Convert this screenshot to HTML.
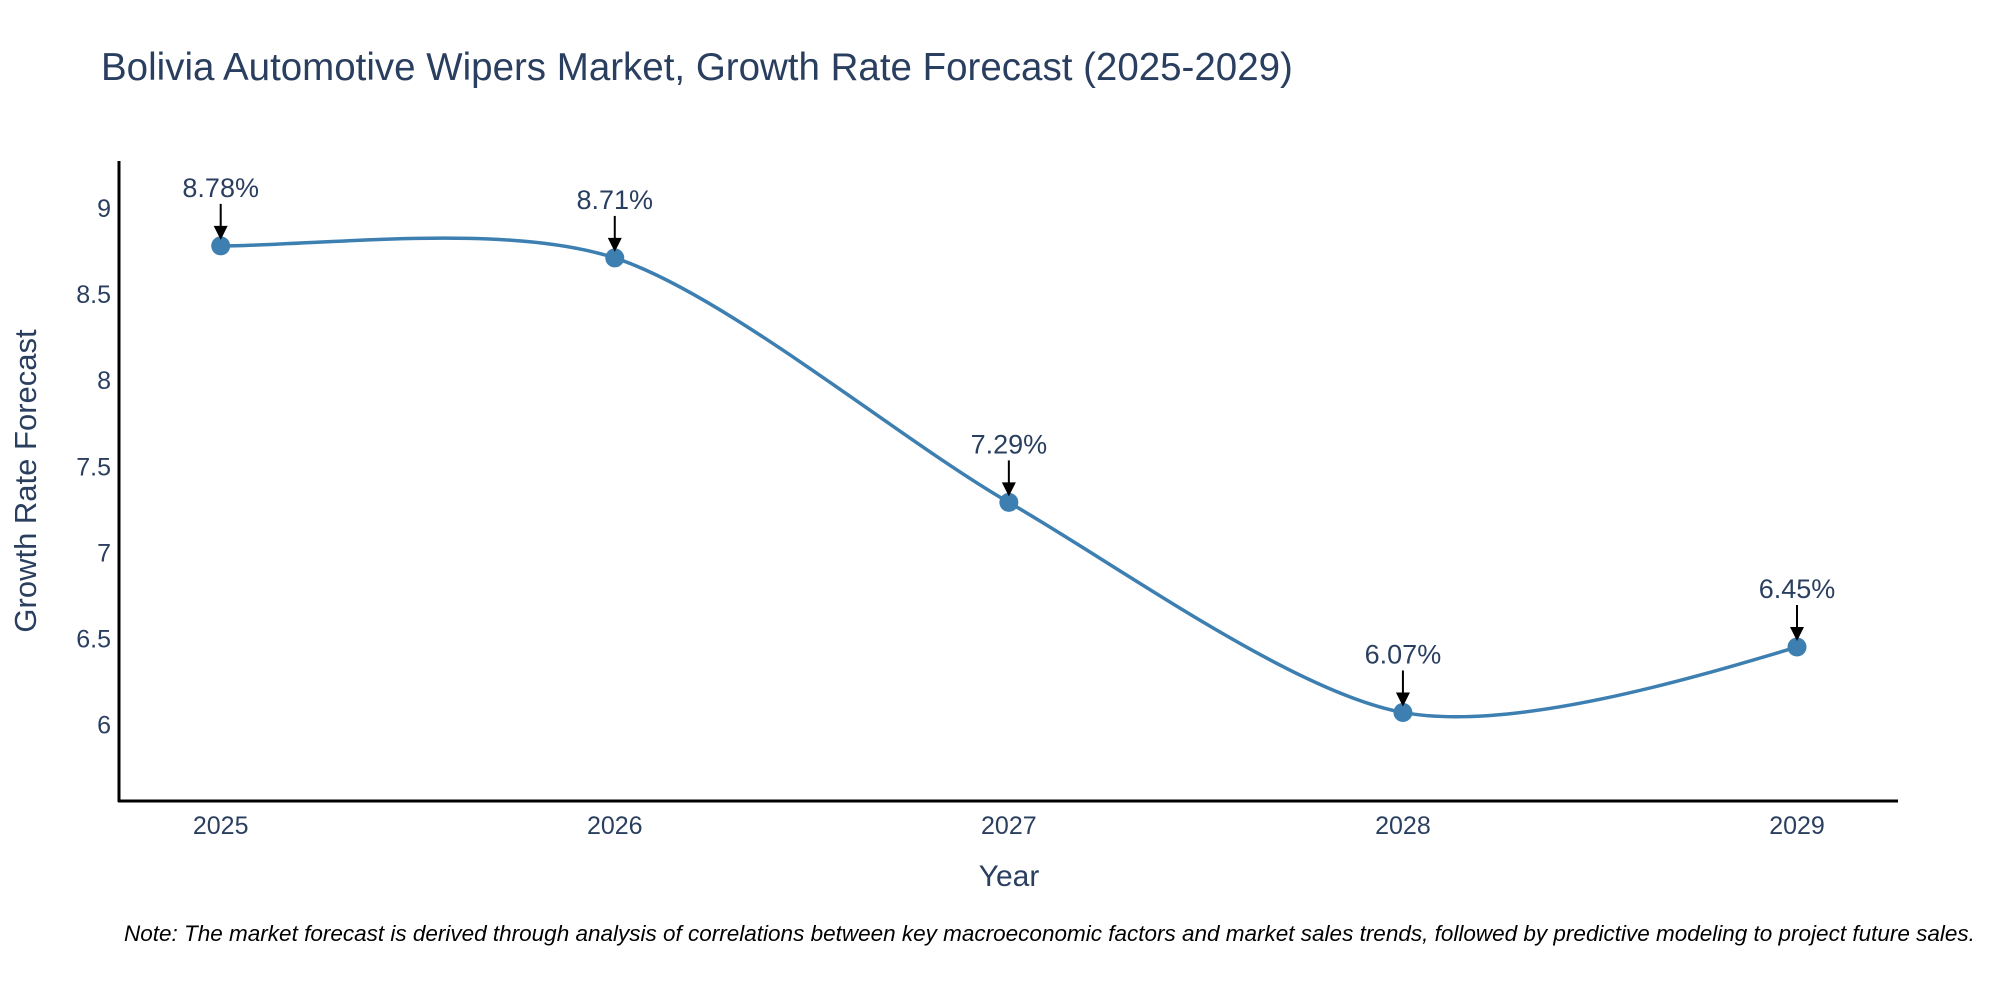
<!DOCTYPE html>
<html><head><meta charset="utf-8"><style>
body{margin:0;background:#fff;}
svg{display:block;font-family:"Liberation Sans",sans-serif;}
</style></head><body>
<svg id="chart" width="2000" height="1000">
<text x="101" y="80" font-size="38.5" fill="#2a3f5f">Bolivia Automotive Wipers Market, Growth Rate Forecast (2025-2029)</text>
<g id="yticks"></g>
<g id="xticks"></g>
<line x1="119" y1="161" x2="119" y2="802" stroke="#000" stroke-width="3"/>
<line x1="118" y1="801" x2="1898" y2="801" stroke="#000" stroke-width="3"/>
<text transform="translate(36,481) rotate(-90)" text-anchor="middle" font-size="31" fill="#2a3f5f">Growth Rate Forecast</text>
<text x="1009" y="886" text-anchor="middle" font-size="30" fill="#2a3f5f">Year</text>
<g id="series"></g>
<text x="124" y="941" font-size="22.5" font-style="italic" fill="#000">Note: The market forecast is derived through analysis of correlations between key macroeconomic factors and market sales trends, followed by predictive modeling to project future sales.</text>
</svg>
<script>
const years = [2025, 2026, 2027, 2028, 2029];
const growth = [8.78, 8.71, 7.29, 6.07, 6.45];
const yTickVals = [6, 6.5, 7, 7.5, 8, 8.5, 9];
const yTickLabels = ["6", "6.5", "7", "7.5", "8", "8.5", "9"];
const NS = "http://www.w3.org/2000/svg";
function xs(v){ return 220.7 + (v - 2025) * (1797 - 220.7) / 4; }
function ys(v){ return 724.5 - (v - 6) * (724.5 - 208) / 3; }
function mk(tag, attrs, parent){ const e = document.createElementNS(NS, tag); for (const k in attrs) e.setAttribute(k, attrs[k]); parent.appendChild(e); return e; }
const yg = document.getElementById('yticks');
yTickVals.forEach((v, i) => {
  const t = mk('text', {x: 111, y: ys(v) + 9, 'text-anchor': 'end', 'font-size': 25, fill: '#2a3f5f'}, yg);
  t.textContent = yTickLabels[i];
  
  
});
const xg = document.getElementById('xticks');
years.forEach(y => {
  const t = mk('text', {x: xs(y), y: 834, 'text-anchor': 'middle', 'font-size': 25, fill: '#2a3f5f'}, xg);
  t.textContent = String(y);
  
  
});
const sg = document.getElementById('series');
const pts = years.map((y, i) => [xs(y), ys(growth[i])]);
const k = 0.14;
const n = pts.length;
function tan(i){
  if (i === 0) return [(pts[1][0]-pts[0][0])*0.25, 0];
  if (i === n-1) return [(pts[n-1][0]-pts[n-2][0])*0.25, (pts[n-1][1]-pts[n-2][1])*0.45];
  return [(pts[i+1][0]-pts[i-1][0])*k, (pts[i+1][1]-pts[i-1][1])*k];
}
let d = `M${pts[0][0]},${pts[0][1]}`;
for (let i = 0; i < n - 1; i++) {
  const t0 = tan(i), t1 = tan(i+1);
  d += ` C${pts[i][0]+t0[0]},${pts[i][1]+t0[1]} ${pts[i+1][0]-t1[0]},${pts[i+1][1]-t1[1]} ${pts[i+1][0]},${pts[i+1][1]}`;
}
const line = mk('path', {d: d, fill: 'none', stroke: '#3d7fb1', 'stroke-width': 3.5}, sg);


pts.forEach((p, i) => {
  const c = mk('circle', {cx: p[0], cy: p[1], r: 9.5, fill: '#3d7fb1'}, sg);
  
  
  const a = mk('line', {x1: p[0], y1: p[1] - 42, x2: p[0], y2: p[1] - 18, stroke: '#000', 'stroke-width': 2}, sg);
  
  
  const h = mk('polygon', {points: `${p[0]-7},${p[1]-20} ${p[0]+7},${p[1]-20} ${p[0]},${p[1]-6}`, fill: '#000'}, sg);
  
  
  const t = mk('text', {x: p[0], y: p[1] - 49, 'text-anchor': 'middle', 'font-size': 27, fill: '#2a3f5f'}, sg);
  t.textContent = growth[i].toFixed(2) + '%';
  
  
});
</script>
</body></html>
